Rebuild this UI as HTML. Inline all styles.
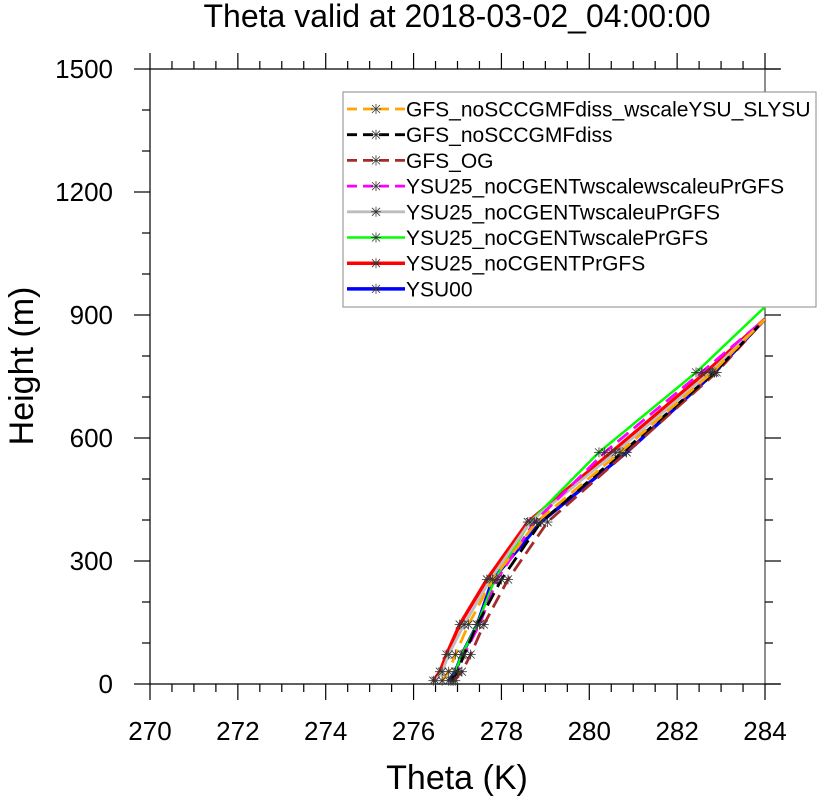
<!DOCTYPE html>
<html><head><meta charset="utf-8"><style>
body{margin:0;background:#fff;}
svg text{font-family:"Liberation Sans",sans-serif;}
</style></head><body>
<svg id="chart" width="817" height="796" xmlns="http://www.w3.org/2000/svg">
<text x="457" y="27" font-size="32" text-anchor="middle">Theta valid at 2018-03-02_04:00:00</text>
<g id="axes"></g>
<g id="series"></g>
<g id="legend"></g>
<text x="457" y="789" font-size="34" text-anchor="middle">Theta (K)</text>
<text transform="translate(33,366) rotate(-90)" font-size="34" text-anchor="middle">Height (m)</text>
</svg>
<script>
const heights = [8, 30, 72, 145, 255, 395, 565, 760, 890];
const heightsGreen = [8, 30, 72, 145, 255, 395, 565, 760, 920];
const seriesNames = ["GFS_noSCCGMFdiss_wscaleYSU_SLYSU","GFS_noSCCGMFdiss","GFS_OG","YSU25_noCGENTwscalewscaleuPrGFS","YSU25_noCGENTwscaleuPrGFS","YSU25_noCGENTwscalePrGFS","YSU25_noCGENTPrGFS","YSU00"];
const orangeVals = [276.65, 276.8, 276.95, 277.25, 277.8, 278.8, 280.7, 282.8, 284];
const blackVals = [276.85, 277.0, 277.15, 277.45, 278.0, 278.9, 280.75, 282.85, 284];
const brownVals = [276.9, 277.1, 277.3, 277.6, 278.15, 279.05, 280.85, 282.9, 284];
const magentaVals = [276.95, 277.0, 277.15, 277.5, 277.9, 278.75, 280.35, 282.55, 284];
const grayVals = [276.5, 276.65, 276.8, 277.15, 277.75, 278.65, 280.6, 282.75, 284];
const greenVals = [276.9, 276.95, 277.1, 277.45, 277.85, 278.65, 280.22, 282.43, 284];
const redVals = [276.45, 276.6, 276.75, 277.05, 277.67, 278.6, 280.5, 282.65, 284];
const blueVals = [276.8, 276.95, 277.1, 277.45, 277.8, 278.9, 280.85, 282.85, 284];
const xTicks = [270,272,274,276,278,280,282,284];
const yTicks = [0,300,600,900,1200,1500];

const NS="http://www.w3.org/2000/svg";
const X0=150,XS=615/14,Y0=684,YS=615/1500;
const xs=v=>X0+(v-270)*XS, ys=v=>Y0-v*YS;
function mk(t,a,p){const e=document.createElementNS(NS,t);for(const k in a)e.setAttribute(k,a[k]);p.appendChild(e);return e;}
const axes=document.getElementById('axes');
const L={stroke:'#000','stroke-width':1.2};
mk('line',Object.assign({x1:150,y1:69,x2:780,y2:69},L),axes);
mk('line',Object.assign({x1:150,y1:684,x2:780,y2:684},L),axes);
mk('line',Object.assign({x1:150,y1:69,x2:150,y2:684},L),axes);
mk('line',Object.assign({x1:xs(284),y1:69,x2:xs(284),y2:684,stroke:'#444','stroke-width':1.2}),axes);
for(let v=270;v<=284.01;v+=0.5){const maj=Math.abs(v/2-Math.round(v/2))<0.01;const x=xs(v);const len=maj?16:8;
 mk('line',Object.assign({x1:x,y1:684,x2:x,y2:684+len},L),axes);
 mk('line',Object.assign({x1:x,y1:69,x2:x,y2:69-len},L),axes);}
xTicks.forEach(v=>{const t=mk('text',{x:xs(v),y:740,'font-size':26,'text-anchor':'middle'},axes);t.textContent=v;
 
 });
for(let v=0;v<=1500;v+=100){const maj=v%300===0;const y=ys(v);const len=maj?16:8;
 mk('line',Object.assign({x1:150,y1:y,x2:150-len,y2:y},L),axes);
 mk('line',Object.assign({x1:xs(284),y1:y,x2:xs(284)+len,y2:y},L),axes);}
yTicks.forEach(v=>{const t=mk('text',{x:113,y:ys(v)+9,'font-size':26,'text-anchor':'end'},axes);t.textContent=v;
 
 });

const styles=[
 {v:orangeVals,h:heights,c:'#ffa500',w:2.8,d:'14,7'},
 {v:blackVals,h:heights,c:'#000',w:2.8,d:'14,7'},
 {v:brownVals,h:heights,c:'#a52a2a',w:2.8,d:'14,7'},
 {v:magentaVals,h:heights,c:'#ff00ff',w:2.8,d:'14,7'},
 {v:grayVals,h:heights,c:'#bebebe',w:2.8,d:''},
 {v:greenVals,h:heightsGreen,c:'#00ff00',w:2.5,d:''},
 {v:redVals,h:heights,c:'#ff0000',w:3.5,d:''},
 {v:blueVals,h:heights,c:'#0000ff',w:3.5,d:''}];
const sg=document.getElementById('series');
function star(x,y,p){const g=mk('g',{stroke:'#333','stroke-width':0.8},p);
 mk('line',{x1:x-5,y1:y,x2:x+5,y2:y},g);mk('line',{x1:x,y1:y-5,x2:x,y2:y+5},g);
 mk('line',{x1:x-4,y1:y-4,x2:x+4,y2:y+4},g);mk('line',{x1:x-4,y1:y+4,x2:x+4,y2:y-4},g);return g;}
for(let i=styles.length-1;i>=0;i--){const s=styles[i];
 const pts=s.v.map((v,j)=>xs(v)+','+ys(s.h[j])).join(' ');
 const pl=mk('polyline',{points:pts,fill:'none',stroke:s.c,'stroke-width':s.w,'stroke-dasharray':s.d},sg);
 
 
 s.v.forEach((v,j)=>{if(j<s.v.length-1){const st=star(xs(v),ys(s.h[j]),sg);
  
  }});}

const lg=document.getElementById('legend');
mk('rect',{x:343,y:92,width:473,height:215,fill:'#fff',stroke:'#888','stroke-width':1},lg);
styles.forEach((s,i)=>{const y=109+i*25.7;
 const e=mk('g',{},lg);
 
 
 mk('line',{x1:347,y1:y,x2:405,y2:y,stroke:s.c,'stroke-width':s.w,'stroke-dasharray':s.d?'10,6':''},e);
 star(376,y,e);
 const t=mk('text',{x:406,y:y+7.5,'font-size':21},e);t.textContent=seriesNames[i];});
</script>
</body></html>
